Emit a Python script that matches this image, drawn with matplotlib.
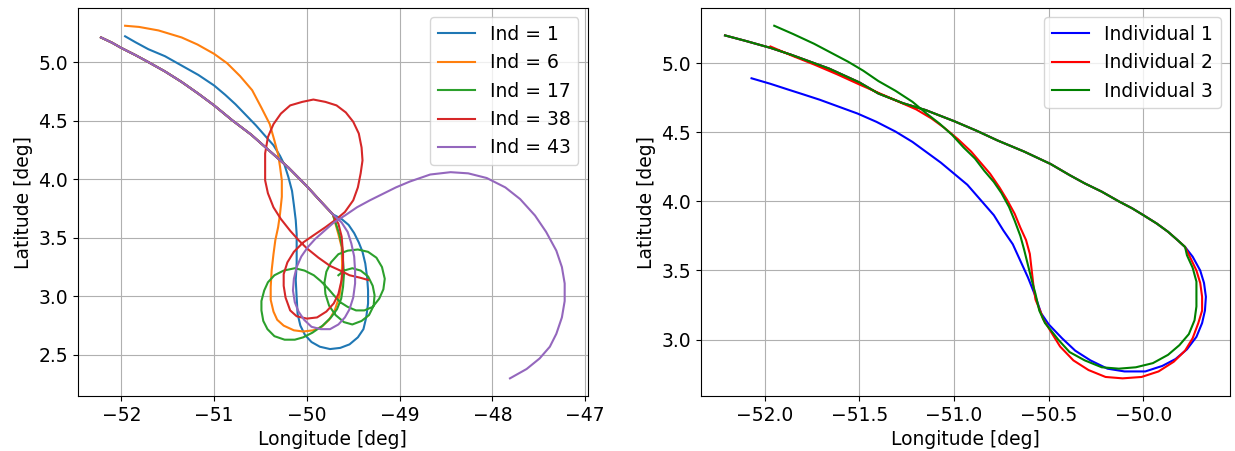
import matplotlib
matplotlib.use('Agg')
import matplotlib.pyplot as plt

# ---- left panel: shared start track, then each individual's own path ----
common_lon = [-52.22, -52.1, -52.0, -51.85, -51.71, -51.53, -51.35, -51.17, -51.0, -50.8, -50.6,
              -50.4, -50.2, -50.0, -49.85, -49.72]
common_lat = [5.21, 5.165, 5.12, 5.06, 5.00, 4.92, 4.83, 4.73, 4.63, 4.50, 4.38,
              4.24, 4.10, 3.94, 3.81, 3.70]

ind1_lon = [-49.625, -49.55, -49.49, -49.44, -49.40, -49.37, -49.35, -49.34, -49.34, -49.36, -49.39,
            -49.45, -49.54, -49.64, -49.75, -49.86, -49.95, -50.02, -50.07, -50.10, -50.11, -50.12,
            -50.11, -50.11, -50.11, -50.12, -50.14, -50.16, -50.20, -50.24, -50.29, -50.36, -50.45,
            -50.55, -50.66, -50.77, -50.88, -51.0, -51.17, -51.35, -51.53, -51.71, -51.85, -51.96]
ind1_lat = [3.66, 3.61, 3.54, 3.46, 3.38, 3.28, 3.16, 3.05, 2.94, 2.82, 2.72,
            2.65, 2.59, 2.56, 2.55, 2.57, 2.61, 2.67, 2.75, 2.85, 2.99, 3.14,
            3.28, 3.42, 3.53, 3.65, 3.78, 3.90, 4.02, 4.12, 4.20, 4.29, 4.37,
            4.46, 4.55, 4.64, 4.72, 4.80, 4.89, 4.97, 5.05, 5.11, 5.17, 5.22]

ind6_lon = [-49.66, -49.625, -49.62, -49.625, -49.65, -49.70, -49.76, -49.84, -49.93, -50.04, -50.14,
            -50.25, -50.32, -50.36, -50.39, -50.39, -50.38, -50.36, -50.34, -50.31, -50.29, -50.27,
            -50.27, -50.29, -50.31, -50.35, -50.40, -50.49, -50.59, -50.72, -50.86, -51.0, -51.18,
            -51.35, -51.60, -51.81, -51.96]
ind6_lat = [3.53, 3.42, 3.28, 3.14, 3.00, 2.88, 2.80, 2.74, 2.71, 2.70, 2.71,
            2.75, 2.80, 2.87, 2.97, 3.08, 3.22, 3.36, 3.48, 3.59, 3.70, 3.85,
            3.99, 4.11, 4.21, 4.33, 4.47, 4.61, 4.76, 4.88, 4.99, 5.07, 5.15,
            5.21, 5.27, 5.30, 5.31]

ind17_lon = [-49.65, -49.62, -49.61, -49.60, -49.61, -49.63, -49.675, -49.74, -49.83, -49.94, -50.04,
             -50.13, -50.24, -50.35, -50.425, -50.47, -50.49, -50.49, -50.46, -50.42, -50.35, -50.25,
             -50.13, -50.025, -49.925, -49.85, -49.775, -49.71, -49.64, -49.56, -49.47, -49.38, -49.29,
             -49.22, -49.175, -49.16, -49.19, -49.25, -49.34, -49.45, -49.56, -49.66, -49.74, -49.79,
             -49.81, -49.80, -49.76, -49.69, -49.60, -49.51, -49.41, -49.33, -49.28, -49.27, -49.29,
             -49.34, -49.42, -49.51, -49.60, -49.66]
ind17_lat = [3.53, 3.42, 3.30, 3.19, 3.08, 2.98, 2.89, 2.82, 2.75, 2.69, 2.65,
             2.63, 2.63, 2.66, 2.72, 2.79, 2.88, 2.96, 3.05, 3.12, 3.18, 3.22,
             3.24, 3.22, 3.18, 3.13, 3.07, 3.01, 2.95, 2.91, 2.88, 2.88, 2.91,
             2.98, 3.06, 3.15, 3.25, 3.33, 3.38, 3.40, 3.39, 3.36, 3.29, 3.21,
             3.12, 3.02, 2.92, 2.84, 2.78, 2.76, 2.79, 2.84, 2.92, 3.01, 3.09,
             3.17, 3.22, 3.24, 3.22, 3.18]

ind38_lon = [-49.66, -49.625, -49.61, -49.61, -49.625, -49.66, -49.71, -49.79, -49.89, -50.0, -50.11,
             -50.18, -50.23, -50.25, -50.25, -50.21, -50.14, -50.04, -49.93, -49.80, -49.68, -49.59,
             -49.50, -49.45, -49.42, -49.40, -49.41, -49.44, -49.50, -49.58, -49.68, -49.80, -49.93,
             -50.05, -50.18, -50.28, -50.36, -50.42, -50.45, -50.45, -50.45, -50.42, -50.36, -50.28,
             -50.18, -50.09, -50.0, -49.875, -49.75, -49.64, -49.54, -49.43, -49.34]
ind38_lat = [3.62, 3.51, 3.36, 3.25, 3.14, 3.02, 2.94, 2.87, 2.82, 2.81, 2.83,
             2.88, 2.99, 3.09, 3.19, 3.29, 3.38, 3.46, 3.52, 3.59, 3.66, 3.72,
             3.82, 3.93, 4.05, 4.16, 4.27, 4.39, 4.49, 4.57, 4.63, 4.66, 4.68,
             4.66, 4.63, 4.56, 4.47, 4.36, 4.22, 4.10, 3.99, 3.88, 3.76, 3.66,
             3.56, 3.48, 3.41, 3.33, 3.26, 3.22, 3.18, 3.16, 3.14]

ind43_lon = [-49.625, -49.56, -49.52, -49.49, -49.48, -49.48, -49.50, -49.54, -49.59, -49.66, -49.75,
             -49.85, -49.95, -50.03, -50.09, -50.13, -50.15, -50.14, -50.11, -50.06, -49.99, -49.91,
             -49.81, -49.71, -49.59, -49.46, -49.32, -49.18, -49.04, -48.89, -48.67, -48.45, -48.26,
             -48.06, -47.86, -47.70, -47.54, -47.42, -47.31, -47.25, -47.22, -47.22, -47.25, -47.31,
             -47.38, -47.49, -47.63, -47.81]
ind43_lat = [3.63, 3.55, 3.45, 3.34, 3.22, 3.11, 2.99, 2.89, 2.82, 2.76, 2.72,
             2.72, 2.74, 2.80, 2.87, 2.95, 3.05, 3.15, 3.25, 3.34, 3.42, 3.49,
             3.56, 3.63, 3.69, 3.76, 3.82, 3.875, 3.93, 3.98, 4.04, 4.06, 4.05,
             4.01, 3.93, 3.83, 3.69, 3.55, 3.39, 3.25, 3.11, 2.96, 2.82, 2.68,
             2.57, 2.47, 2.38, 2.30]

left_labels = ['Ind = 1', 'Ind = 6', 'Ind = 17', 'Ind = 38', 'Ind = 43']

# ---- right panel ----
rc_lon = [-52.21, -52.10, -51.97, -51.86, -51.74, -51.66, -51.5, -51.40, -51.27, -51.15, -51.0,
          -50.88, -50.77, -50.63, -50.49, -50.39, -50.31, -50.22, -50.13, -50.06, -50.0, -49.93,
          -49.87, -49.82, -49.78]
rc_lat = [5.20, 5.16, 5.11, 5.06, 5.00, 4.96, 4.86, 4.78, 4.71, 4.66, 4.58,
          4.51, 4.44, 4.36, 4.27, 4.19, 4.13, 4.07, 4.00, 3.95, 3.90, 3.84,
          3.78, 3.72, 3.67]

i1_lon = [-49.74, -49.70, -49.68, -49.67, -49.675, -49.69, -49.72, -49.77, -49.83, -49.90, -49.99,
          -50.10, -50.19, -50.28, -50.36, -50.43, -50.50, -50.54, -50.575, -50.61, -50.65, -50.69,
          -50.74, -50.79, -50.86, -50.93, -51.0, -51.07, -51.13, -51.22, -51.31, -51.41, -51.51,
          -51.59, -51.66, -51.71, -51.80, -51.88, -51.97, -52.07]
i1_lat = [3.60, 3.50, 3.41, 3.31, 3.21, 3.12, 3.02, 2.93, 2.86, 2.81, 2.77,
          2.77, 2.79, 2.85, 2.92, 3.01, 3.11, 3.19, 3.33, 3.45, 3.57, 3.69,
          3.79, 3.90, 4.01, 4.12, 4.20, 4.28, 4.34, 4.43, 4.505, 4.575, 4.635,
          4.675, 4.71, 4.735, 4.775, 4.81, 4.85, 4.89]

i2_lon = [-49.755, -49.72, -49.70, -49.69, -49.69, -49.71, -49.74, -49.78, -49.84, -49.92, -50.01,
          -50.11, -50.20, -50.29, -50.37, -50.44, -50.49, -50.53, -50.54, -50.57, -50.58, -50.59,
          -50.60, -50.62, -50.65, -50.68, -50.72, -50.76, -50.81, -50.86, -50.91, -50.98, -51.05,
          -51.12, -51.2, -51.3, -51.4, -51.5, -51.62, -51.74, -51.85, -51.97]
i2_lat = [3.60, 3.50, 3.41, 3.31, 3.21, 3.12, 3.01, 2.92, 2.84, 2.77, 2.73,
          2.72, 2.73, 2.78, 2.85, 2.95, 3.06, 3.15, 3.19, 3.29, 3.38, 3.50,
          3.62, 3.72, 3.81, 3.91, 4.01, 4.10, 4.20, 4.28, 4.36, 4.45, 4.53,
          4.60, 4.665, 4.725, 4.785, 4.845, 4.92, 4.99, 5.05, 5.12]

i3_lon = [-49.77, -49.74, -49.72, -49.72, -49.72, -49.73, -49.76, -49.81, -49.87, -49.95, -50.04,
          -50.13, -50.22, -50.31, -50.39, -50.45, -50.49, -50.52, -50.55, -50.57, -50.59, -50.61,
          -50.63, -50.65, -50.68, -50.71, -50.75, -50.79, -50.84, -50.89, -50.95, -51.01, -51.075,
          -51.15, -51.22, -51.31, -51.40, -51.48, -51.56, -51.65, -51.74, -51.85, -51.95]
i3_lat = [3.61, 3.52, 3.42, 3.33, 3.24, 3.14, 3.04, 2.96, 2.89, 2.83, 2.80,
          2.79, 2.80, 2.85, 2.91, 3.00, 3.07, 3.12, 3.21, 3.33, 3.43, 3.54,
          3.65, 3.75, 3.86, 3.96, 4.06, 4.14, 4.22, 4.31, 4.39, 4.48, 4.56,
          4.64, 4.72, 4.80, 4.87, 4.945, 5.01, 5.075, 5.14, 5.21, 5.27]

right_labels = ['Individual 1', 'Individual 2', 'Individual 3']
right_colors = ['b', 'r', 'g']

plt.rcParams['font.size'] = 13.5

fig = plt.figure(figsize=(12.35, 4.51), dpi=100)
ax1 = fig.add_axes([0.063, 0.122, 0.413, 0.860])
ax2 = fig.add_axes([0.5676, 0.122, 0.4283, 0.860])

left_tails = [(ind1_lon, ind1_lat), (ind6_lon, ind6_lat), (ind17_lon, ind17_lat),
              (ind38_lon, ind38_lat), (ind43_lon, ind43_lat)]
for (lo, la), lab in zip(left_tails, left_labels):
    ax1.plot(common_lon + lo, common_lat + la, label=lab)
ax1.set_xlabel('Longitude [deg]')
ax1.set_ylabel('Latitude [deg]')
ax1.grid(True)
ax1.legend(loc='upper right')

right_tails = [(i1_lon, i1_lat), (i2_lon, i2_lat), (i3_lon, i3_lat)]
for (lo, la), lab, c in zip(right_tails, right_labels, right_colors):
    ax2.plot(rc_lon + lo, rc_lat + la, color=c, label=lab)
ax2.set_xlabel('Longitude [deg]')
ax2.set_ylabel('Latitude [deg]')
ax2.grid(True)
ax2.legend(loc='upper right')

plt.savefig('out.png', dpi=100)
